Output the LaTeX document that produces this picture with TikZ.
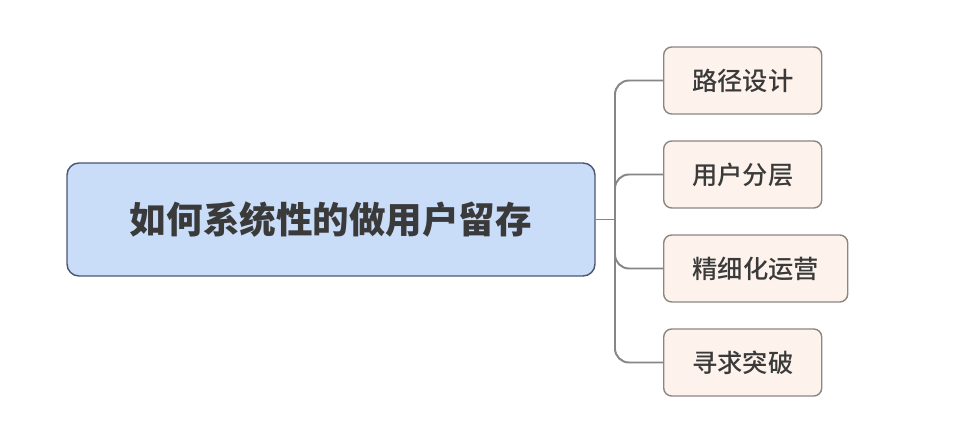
\documentclass[tikz,border=0pt]{standalone}
\usepackage{fontspec}
\newfontfamily\cjk{Noto Sans CJK SC}
\newfontfamily\cjkmed{Noto Sans CJK SC Medium}
\definecolor{rootfill}{HTML}{C9DCF8}
\definecolor{rootline}{HTML}{4B5670}
\definecolor{leaffill}{HTML}{FDF3EC}
\definecolor{leafline}{HTML}{8C8682}
\definecolor{linkgray}{HTML}{868686}
\definecolor{textgray}{HTML}{3A3A3A}
\tikzset{
  rootbox/.style={draw=rootline, fill=rootfill, line width=1pt, rounded corners=0.3cm,
    minimum width=13.2cm, minimum height=2.825cm, text=textgray,
    font=\cjk\bfseries\fontsize{26}{30}\selectfont},
  leafbox/.style={draw=leafline, fill=leaffill, line width=1pt, rounded corners=0.2cm,
    anchor=west, minimum height=1.675cm, text=textgray,
    font=\cjkmed\fontsize{18}{21}\selectfont},
  link/.style={draw=linkgray, line width=1.4pt, rounded corners=0.35cm}
}
\begin{document}
\begin{tikzpicture}
\useasboundingbox (0,0) rectangle (24.1,10.85);

% root
\node[rootbox] (root) at (8.275,5.3625) {如何系统性的做用户留存};

% branches
\node[leafbox, minimum width=3.95cm] (path) at (16.575,8.8375) {路径设计};
\node[leafbox, minimum width=3.95cm] (layer) at (16.575,6.4875) {用户分层};
\node[leafbox, minimum width=4.6cm] (fine) at (16.575,4.1375) {精细化运营};
\node[leafbox, minimum width=3.95cm] (break) at (16.575,1.7875) {寻求突破};

% connectors
\coordinate (fork) at (15.375,5.3625);
\draw[link] (root.east) -- (fork);
\draw[link] (fork) |- (path.west);
\draw[link] (fork) |- (layer.west);
\draw[link] (fork) |- (fine.west);
\draw[link] (fork) |- (break.west);
\end{tikzpicture}
\end{document}
